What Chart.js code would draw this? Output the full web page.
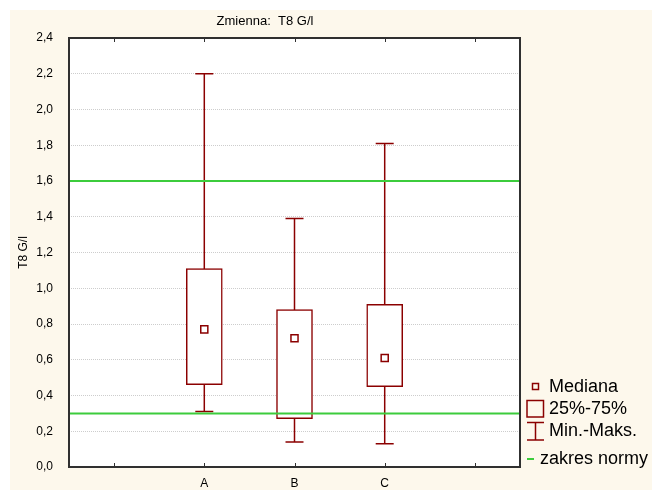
<!DOCTYPE html>
<html>
<head>
<meta charset="utf-8">
<title>Zmienna: T8 G/l</title>
<script src="https://cdn.jsdelivr.net/npm/chart.js@4.4.1/dist/chart.umd.min.js"></script>
<style>
    html, body { margin: 0; padding: 0; background: #ffffff; }
    #wrap { width: 652px; height: 492px; }
</style>
</head>
<body>
<div id="wrap"><canvas id="boxChart" width="652" height="492"></canvas></div>
<script>
    "use strict";

    // dane
    var categories = ['A', 'B', 'C'];
    var minValues = [0.31, 0.14, 0.13];
    var q1Values = [0.46, 0.27, 0.45];
    var medianValues = [0.77, 0.72, 0.61];
    var q3Values = [1.11, 0.88, 0.91];
    var maxValues = [2.20, 1.39, 1.81];
    var normRange = [0.3, 1.6];
    var yTicks = [0, 0.2, 0.4, 0.6, 0.8, 1.0, 1.2, 1.4, 1.6, 1.8, 2.0, 2.2, 2.4];
    var legendLabels = ['Mediana', '25%-75%', 'Min.-Maks.', 'zakres normy'];

    var boxColor = '#8b0000';
    var normColor = '#3ccc3c';
    var fontFamily = "'Liberation Sans', Arial, sans-serif";

    // puste kategorie na brzegach osi X
    var xLabels = [''].concat(categories).concat(['']);

    function pad(arr) {
        return [null].concat(arr).concat([null]);
    }

    var boxData = pad(categories.map(function (c, i) { return [q1Values[i], q3Values[i]]; }));

    var statsPlugin = {
        id: 'statsPlugin',
        beforeDraw: function (chart) {
            var ctx = chart.ctx;
            var a = chart.chartArea;
            ctx.save();
            ctx.fillStyle = '#fdf8ec';
            ctx.fillRect(10, 10, chart.width - 10, chart.height - 12);
            ctx.fillStyle = '#ffffff';
            ctx.fillRect(a.left, a.top, a.right - a.left, a.bottom - a.top);
            ctx.restore();
        },
        beforeDatasetsDraw: function (chart) {
            var ctx = chart.ctx;
            var x = chart.scales.x;
            var y = chart.scales.y;
            ctx.save();
            ctx.strokeStyle = boxColor;
            ctx.lineWidth = 1.5;
            categories.forEach(function (c, i) {
                var px = x.getPixelForValue(i + 1);
                var yMin = y.getPixelForValue(minValues[i]);
                var yMax = y.getPixelForValue(maxValues[i]);
                ctx.beginPath();
                ctx.moveTo(px, yMin);
                ctx.lineTo(px, yMax);
                ctx.moveTo(px - 9, yMin);
                ctx.lineTo(px + 9, yMin);
                ctx.moveTo(px - 9, yMax);
                ctx.lineTo(px + 9, yMax);
                ctx.stroke();
            });
            ctx.restore();
        },
        afterDatasetsDraw: function (chart) {
            var ctx = chart.ctx;
            var a = chart.chartArea;
            var x = chart.scales.x;
            var y = chart.scales.y;
            ctx.save();

            // zakres normy
            ctx.strokeStyle = normColor;
            ctx.lineWidth = 2;
            normRange.forEach(function (v) {
                var py = y.getPixelForValue(v);
                ctx.beginPath();
                ctx.moveTo(a.left, py);
                ctx.lineTo(a.right, py);
                ctx.stroke();
            });

            // ramka
            ctx.strokeStyle = '#303030';
            ctx.lineWidth = 2;
            ctx.strokeRect(a.left, a.top, a.right - a.left, a.bottom - a.top);

            // znaczniki osi X (do wewnatrz)
            ctx.lineWidth = 1;
            xLabels.forEach(function (l, i) {
                var px = Math.round(x.getPixelForValue(i)) + 0.5;
                ctx.beginPath();
                ctx.moveTo(px, a.bottom);
                ctx.lineTo(px, a.bottom - 4);
                ctx.moveTo(px, a.top);
                ctx.lineTo(px, a.top + 4);
                ctx.stroke();
            });
            ctx.restore();
        },
        afterDraw: function (chart) {
            var ctx = chart.ctx;
            ctx.save();
            ctx.font = '18px ' + fontFamily;
            ctx.fillStyle = '#000000';
            ctx.textBaseline = 'middle';
            ctx.textAlign = 'left';

            // Mediana
            ctx.strokeStyle = boxColor;
            ctx.lineWidth = 1.5;
            ctx.strokeRect(532.5, 383.5, 6, 6);
            ctx.fillText(legendLabels[0], 549, 387);

            // 25%-75%
            ctx.strokeRect(527, 400.5, 16.5, 16.5);
            ctx.fillText(legendLabels[1], 549, 409);

            // Min.-Maks.
            ctx.beginPath();
            ctx.moveTo(535.5, 422.5);
            ctx.lineTo(535.5, 440);
            ctx.moveTo(527, 422.5);
            ctx.lineTo(544, 422.5);
            ctx.moveTo(527, 440);
            ctx.lineTo(544, 440);
            ctx.stroke();
            ctx.fillText(legendLabels[2], 549, 431);

            // zakres normy
            ctx.strokeStyle = normColor;
            ctx.lineWidth = 2;
            ctx.beginPath();
            ctx.moveTo(527, 459);
            ctx.lineTo(534, 459);
            ctx.stroke();
            ctx.fillText(legendLabels[3], 540, 459);
            ctx.restore();
        }
    };

    var ctx = document.getElementById('boxChart').getContext('2d');

    new Chart(ctx, {
        data: {
            labels: xLabels,
            datasets: [{
                type: 'line',
                label: legendLabels[0],
                data: pad(medianValues),
                showLine: false,
                pointStyle: 'rect',
                pointRadius: 5,
                borderColor: boxColor,
                backgroundColor: '#ffffff',
                borderWidth: 1.5,
                order: 0
            }, {
                type: 'bar',
                label: legendLabels[1],
                data: boxData,
                barThickness: 36,
                backgroundColor: '#ffffff',
                borderColor: boxColor,
                borderWidth: 1.5,
                borderSkipped: false,
                order: 1
            }]
        },
        options: {
            responsive: false,
            animation: false,
            devicePixelRatio: 1,
            layout: { padding: { left: 10, top: 10, right: 132, bottom: 0 } },
            plugins: {
                legend: { display: false },
                tooltip: { enabled: false },
                title: {
                    display: true,
                    text: 'Zmienna:  T8 G/l',
                    color: '#000000',
                    font: { family: fontFamily, size: 13, weight: 'normal' },
                    padding: { top: 4, bottom: 8.4 }
                }
            },
            scales: {
                x: {
                    type: 'category',
                    offset: true,
                    grid: { display: false, drawTicks: false },
                    border: { display: false },
                    ticks: {
                        color: '#000000',
                        padding: 9,
                        font: { family: fontFamily, size: 12 }
                    },
                    afterFit: function (scale) { scale.height = 25; }
                },
                y: {
                    min: 0,
                    max: 2.4,
                    afterBuildTicks: function (scale) {
                        scale.ticks = yTicks.map(function (v) { return { value: v }; });
                    },
                    grid: { color: '#cdcdcd', drawTicks: false, lineWidth: 1 },
                    border: { display: false, dash: [1, 1] },
                    ticks: {
                        color: '#000000',
                        padding: 16,
                        font: { family: fontFamily, size: 12 },
                        callback: function (v) { return v.toFixed(1).replace('.', ','); }
                    },
                    title: {
                        display: true,
                        text: 'T8 G/l',
                        color: '#000000',
                        font: { family: fontFamily, size: 12 },
                        padding: { top: 6, bottom: 0 }
                    },
                    afterFit: function (scale) { scale.width = 59; }
                }
            }
        },
        plugins: [statsPlugin]
    });
</script>
</body>
</html>
